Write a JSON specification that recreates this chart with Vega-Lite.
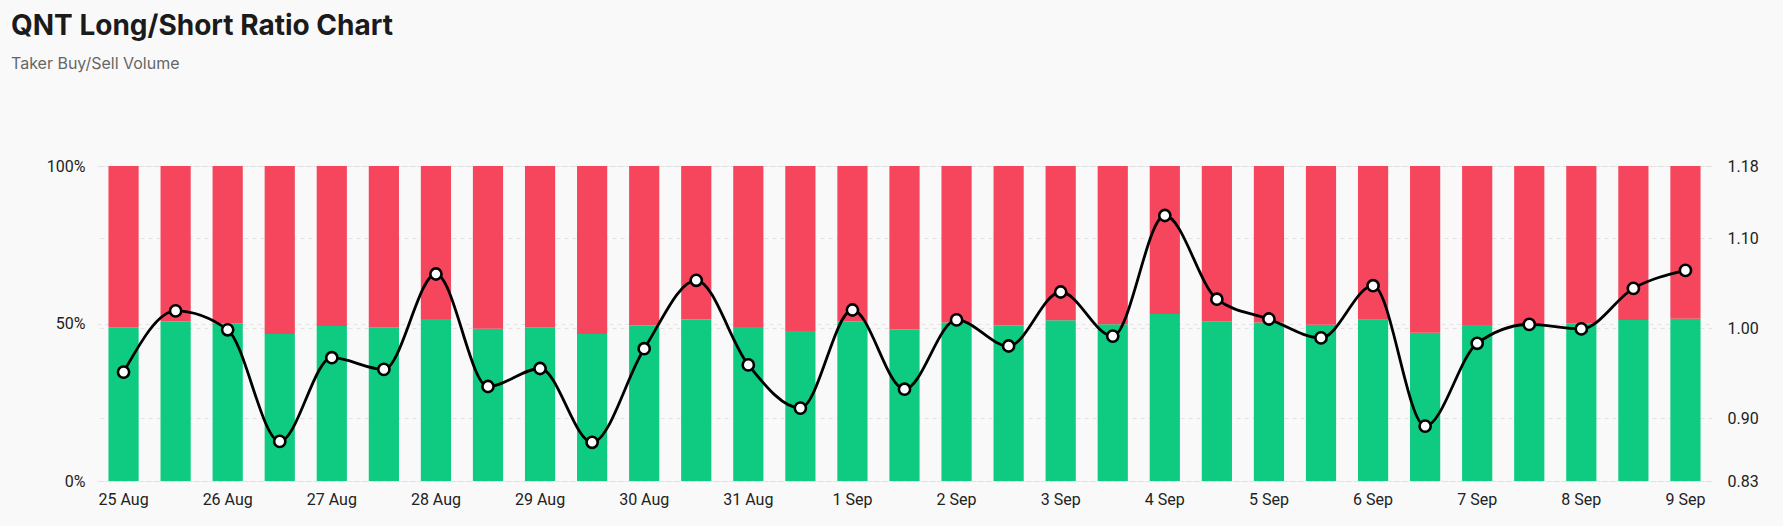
{
  "$schema": "https://vega.github.io/schema/vega-lite/v6.json",
  "width": 1615,
  "height": 315,
  "autosize": {"type": "none"},
  "padding": {"left": 97, "top": 166, "right": 71, "bottom": 45},
  "background": "#f9f9f9",
  "title": {
    "text": "QNT Long/Short Ratio Chart",
    "subtitle": "Taker Buy/Sell Volume",
    "anchor": "start",
    "frame": "group",
    "dx": -86,
    "offset": 86,
    "font": "Inter",
    "fontSize": 28,
    "fontWeight": 700,
    "color": "#1b1b1b",
    "subtitleFont": "Inter",
    "subtitleFontSize": 16,
    "subtitleColor": "#666666",
    "subtitlePadding": 15
  },
  "config": {
    "view": {"stroke": null},
    "axis": {
      "labelFont": "Roboto",
      "labelFontSize": 16,
      "labelColor": "#222222",
      "domain": false,
      "ticks": false,
      "title": null,
      "gridColor": "#e2e2e2",
      "gridDash": [4, 4],
      "gridWidth": 1
    }
  },
  "data": {
    "values": [
      {"time": "25 Aug 00:00", "buy": 48.8, "sell": 51.2, "ratio": 0.951},
      {"time": "25 Aug 12:00", "buy": 50.6, "sell": 49.4, "ratio": 1.019},
      {"time": "26 Aug 00:00", "buy": 50.1, "sell": 49.9, "ratio": 0.998},
      {"time": "26 Aug 12:00", "buy": 46.7, "sell": 53.3, "ratio": 0.874},
      {"time": "27 Aug 00:00", "buy": 49.2, "sell": 50.8, "ratio": 0.967},
      {"time": "27 Aug 12:00", "buy": 48.8, "sell": 51.2, "ratio": 0.954},
      {"time": "28 Aug 00:00", "buy": 51.4, "sell": 48.6, "ratio": 1.06},
      {"time": "28 Aug 12:00", "buy": 48.3, "sell": 51.7, "ratio": 0.935},
      {"time": "29 Aug 00:00", "buy": 48.8, "sell": 51.2, "ratio": 0.955},
      {"time": "29 Aug 12:00", "buy": 46.7, "sell": 53.3, "ratio": 0.873},
      {"time": "30 Aug 00:00", "buy": 49.4, "sell": 50.6, "ratio": 0.977},
      {"time": "30 Aug 12:00", "buy": 51.3, "sell": 48.7, "ratio": 1.053},
      {"time": "31 Aug 00:00", "buy": 48.9, "sell": 51.1, "ratio": 0.959},
      {"time": "31 Aug 12:00", "buy": 47.6, "sell": 52.4, "ratio": 0.911},
      {"time": "1 Sep 00:00", "buy": 50.6, "sell": 49.4, "ratio": 1.02},
      {"time": "1 Sep 12:00", "buy": 48.1, "sell": 51.9, "ratio": 0.932},
      {"time": "2 Sep 00:00", "buy": 50.3, "sell": 49.7, "ratio": 1.009},
      {"time": "2 Sep 12:00", "buy": 49.4, "sell": 50.6, "ratio": 0.98},
      {"time": "3 Sep 00:00", "buy": 51.0, "sell": 49.0, "ratio": 1.04},
      {"time": "3 Sep 12:00", "buy": 49.8, "sell": 50.2, "ratio": 0.991},
      {"time": "4 Sep 00:00", "buy": 53.0, "sell": 47.0, "ratio": 1.125},
      {"time": "4 Sep 12:00", "buy": 50.7, "sell": 49.3, "ratio": 1.032},
      {"time": "5 Sep 00:00", "buy": 50.3, "sell": 49.7, "ratio": 1.01},
      {"time": "5 Sep 12:00", "buy": 49.6, "sell": 50.4, "ratio": 0.989},
      {"time": "6 Sep 00:00", "buy": 51.2, "sell": 48.8, "ratio": 1.047},
      {"time": "6 Sep 12:00", "buy": 47.1, "sell": 52.9, "ratio": 0.891},
      {"time": "7 Sep 00:00", "buy": 49.5, "sell": 50.5, "ratio": 0.983},
      {"time": "7 Sep 12:00", "buy": 49.7, "sell": 50.3, "ratio": 1.004},
      {"time": "8 Sep 00:00", "buy": 50.1, "sell": 49.9, "ratio": 0.999},
      {"time": "8 Sep 12:00", "buy": 51.1, "sell": 48.9, "ratio": 1.044},
      {"time": "9 Sep 00:00", "buy": 51.5, "sell": 48.5, "ratio": 1.064}
    ]
  },
  "encoding": {
    "x": {
      "field": "time",
      "type": "ordinal",
      "sort": null,
      "scale": {"paddingInner": 0.42, "paddingOuter": 0.22},
      "axis": {
        "labelAngle": 0,
        "labelPadding": 10,
        "labelExpr": "slice(datum.value, -5) == '00:00' ? slice(datum.value, 0, -6) : ''"
      }
    }
  },
  "layer": [
    {
      "transform": [{"fold": ["buy", "sell"], "as": ["side", "pct"]}],
      "mark": {"type": "bar"},
      "encoding": {
        "y": {
          "field": "pct",
          "type": "quantitative",
          "stack": "zero",
          "scale": {"domain": [0, 100], "nice": false},
          "axis": {
            "values": [0, 50, 100],
            "labelExpr": "datum.value + '%'",
            "labelPadding": 12,
            "grid": true
          }
        },
        "color": {
          "field": "side",
          "type": "nominal",
          "scale": {"domain": ["buy", "sell"], "range": ["#0ecb81", "#f6465d"]},
          "legend": null
        },
        "order": {"field": "side", "type": "nominal", "sort": "ascending"}
      }
    },
    {
      "encoding": {
        "y": {
          "field": "ratio",
          "type": "quantitative",
          "scale": {"domain": [0.83, 1.18], "nice": false, "zero": false},
          "axis": {
            "orient": "right",
            "values": [0.83, 0.9, 1.0, 1.1, 1.18],
            "format": ".2f",
            "labelPadding": 15,
            "grid": true
          }
        }
      },
      "layer": [
        {
          "mark": {"type": "line", "interpolate": "monotone", "color": "#000000", "strokeWidth": 2.8}
        },
        {
          "mark": {
            "type": "point",
            "filled": true,
            "fill": "#ffffff",
            "stroke": "#000000",
            "strokeWidth": 2.6,
            "size": 125,
            "opacity": 1
          }
        }
      ]
    }
  ],
  "resolve": {"scale": {"y": "independent"}}
}
